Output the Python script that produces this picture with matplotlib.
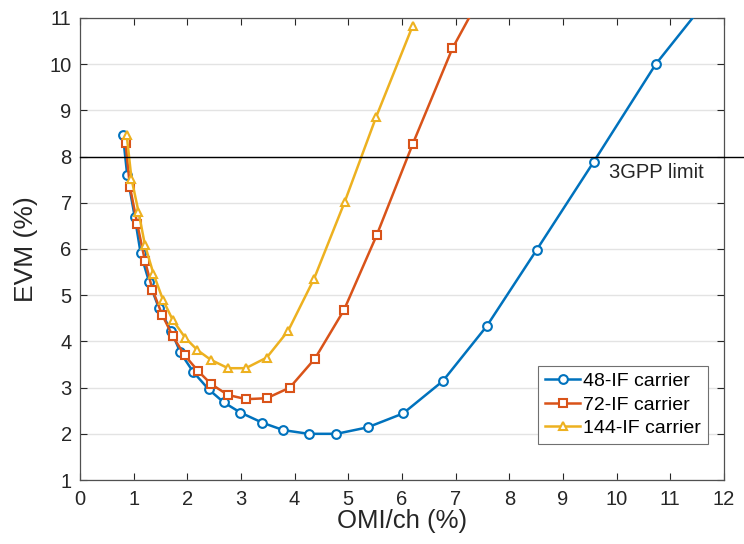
import matplotlib.pyplot as plt

# EVM vs OMI per channel
omi_48 = [0.80, 0.88, 1.02, 1.13, 1.29, 1.47, 1.70, 1.87, 2.11, 2.40, 2.68, 2.99,
          3.40, 3.79, 4.26, 4.78, 5.36, 6.02, 6.76, 7.58, 8.51, 9.57, 10.73, 12.00]
evm_48 = [8.47, 7.60, 6.70, 5.91, 5.28, 4.72, 4.23, 3.76, 3.34, 2.96, 2.68, 2.46,
          2.24, 2.08, 2.00, 2.00, 2.14, 2.44, 3.14, 4.33, 5.98, 7.88, 10.00, 11.85]

omi_72 = [0.85, 0.93, 1.07, 1.21, 1.35, 1.53, 1.73, 1.95, 2.20, 2.45, 2.76, 3.10,
          3.48, 3.91, 4.38, 4.92, 5.53, 6.20, 6.94, 7.70]
evm_72 = [8.29, 7.35, 6.53, 5.75, 5.12, 4.58, 4.11, 3.70, 3.36, 3.07, 2.84, 2.75,
          2.77, 3.00, 3.63, 4.68, 6.30, 8.27, 10.34, 11.96]

omi_144 = [0.87, 0.96, 1.09, 1.21, 1.37, 1.55, 1.73, 1.96, 2.19, 2.44, 2.76, 3.09,
           3.48, 3.88, 4.36, 4.93, 5.52, 6.20]
evm_144 = [8.47, 7.52, 6.81, 6.09, 5.46, 4.89, 4.46, 4.08, 3.81, 3.60, 3.42, 3.42,
           3.65, 4.23, 5.35, 7.01, 8.86, 10.83]

limit_evm = 8.0
x_ticks = list(range(0, 13))
y_ticks = list(range(1, 12))

plt.rcParams["font.family"] = ["Liberation Sans", "DejaVu Sans"]

fig = plt.figure(figsize=(7.44, 5.44), dpi=100)
ax = fig.add_axes([0.1075, 0.1176, 0.8655, 0.8494])

# series
series = [
    (omi_48, evm_48, "#0072BD", "o", "48-IF carrier"),
    (omi_72, evm_72, "#D95319", "s", "72-IF carrier"),
    (omi_144, evm_144, "#EDB120", "^", "144-IF carrier"),
]
for xs, ys, col, mk, lab in series:
    ax.plot(xs, ys, color=col, linewidth=1.8, marker=mk, markersize=6.3,
            markerfacecolor="white", markeredgecolor=col, markeredgewidth=1.5,
            label=lab, zorder=3)

# 3GPP limit line, runs out past the right spine
ax.plot([0, 12.4], [limit_evm, limit_evm], color="black", linewidth=1.0,
        clip_on=False, zorder=4)
ax.text(9.86, 7.66, "3GPP limit", fontsize=14.5, color="#262626",
        ha="left", va="center")

ax.set_xlim(0, 12)
ax.set_ylim(1, 11)
ax.set_xticks(x_ticks)
ax.set_yticks(y_ticks)
ax.yaxis.grid(True, color="#e3e3e3", linewidth=1.0)
ax.set_axisbelow(True)

ax.tick_params(direction="in", length=5, width=0.8, top=True, right=True,
               labelsize=14.5, colors="#262626")
ax.tick_params(axis="x", pad=7.5)
ax.tick_params(axis="y", pad=6)
for sp in ax.spines.values():
    sp.set_color("#505050")
    sp.set_linewidth(0.9)

ax.set_xlabel("OMI/ch (%)", fontsize=18.5, color="#262626", labelpad=0)
ax.set_ylabel("EVM (%)", fontsize=19, color="#262626", labelpad=8)

leg = ax.legend(loc="lower right", bbox_to_anchor=(0.975, 0.078), fontsize=14,
                frameon=True, fancybox=False, framealpha=1.0, handlelength=1.8,
                handletextpad=0.15, borderpad=0.35, labelspacing=0.3,
                borderaxespad=0)
leg.get_frame().set_edgecolor("#707070")
leg.get_frame().set_linewidth(0.8)

fig.savefig("out.png", dpi=100)
